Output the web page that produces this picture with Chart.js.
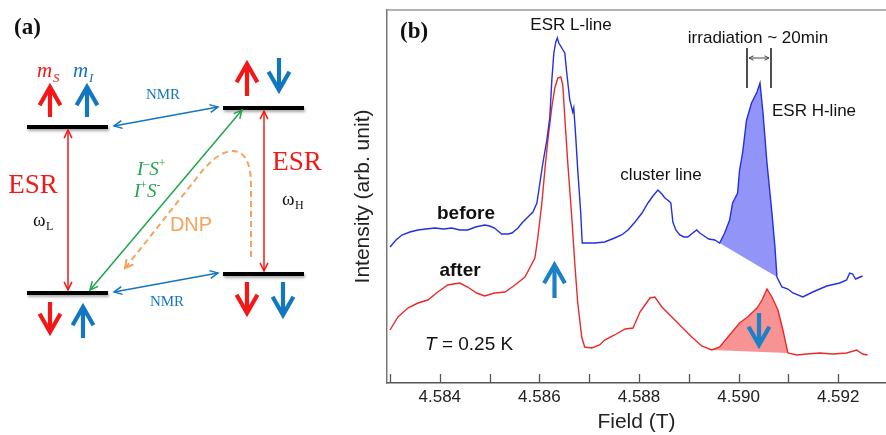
<!DOCTYPE html>
<html>
<head>
<meta charset="utf-8">
<script src="https://cdn.jsdelivr.net/npm/chart.js@4.4.1/dist/chart.umd.min.js"></script>
<style>
  html, body { margin: 0; padding: 0; background: #fff; }
  #wrap { width: 886px; height: 435px; }
</style>
</head>
<body>
<div id="wrap"><canvas id="grafico" width="886" height="435"></canvas></div>
<script>
//? Dados do espectro ESR (campo em T, intensidade em unidade arbitraria)
const fieldBefore = [
    4.58300, 4.58312, 4.58324, 4.58340, 4.58356, 4.58372, 4.58390, 4.58408, 4.58424, 4.58440,
    4.58456, 4.58472, 4.58490, 4.58500, 4.58510, 4.58524, 4.58537, 4.58545, 4.58557, 4.58565,
    4.58577, 4.58587, 4.58595, 4.58601, 4.58607, 4.58615, 4.58621, 4.58625, 4.58629, 4.58633,
    4.58636, 4.58639, 4.58645, 4.58651, 4.58655, 4.58661, 4.58667, 4.58669, 4.58673, 4.58677,
    4.58683, 4.58686, 4.58697, 4.58711, 4.58731, 4.58751, 4.58765, 4.58778, 4.58792, 4.58806,
    4.58818, 4.58828, 4.58838, 4.58846, 4.58852, 4.58860, 4.58864, 4.58868, 4.58874, 4.58882,
    4.58890, 4.58898, 4.58908, 4.58916, 4.58922, 4.58928, 4.58940, 4.58952, 4.58962, 4.58972,
    4.58982, 4.58988, 4.58998, 4.59002, 4.59008, 4.59016, 4.59026, 4.59037, 4.59043, 4.59049,
    4.59057, 4.59067, 4.59073, 4.59077, 4.59087, 4.59099, 4.59109, 4.59129, 4.59149, 4.59177,
    4.59203, 4.59217, 4.59223, 4.59229, 4.59235, 4.59249
]
const intensityBefore = [
    1.36, 1.43, 1.48, 1.51, 1.53, 1.54, 1.55, 1.54, 1.55, 1.53,
    1.53, 1.56, 1.58, 1.57, 1.55, 1.49, 1.49, 1.50, 1.55, 1.60,
    1.66, 1.71, 1.80, 2.00, 2.20, 2.43, 2.66, 3.03, 3.30, 3.41,
    3.45, 3.40, 3.35, 3.30, 3.10, 2.83, 2.71, 2.75, 2.46, 2.13,
    1.70, 1.40, 1.40, 1.40, 1.41, 1.45, 1.48, 1.53, 1.61, 1.70,
    1.80, 1.87, 1.93, 1.89, 1.85, 1.82, 1.80, 1.61, 1.53, 1.48,
    1.46, 1.46, 1.50, 1.53, 1.50, 1.48, 1.44, 1.43, 1.40, 1.50,
    1.63, 1.80, 1.90, 2.13, 2.30, 2.63, 2.80, 2.91, 3.00, 2.70,
    2.20, 1.70, 1.36, 1.06, 0.96, 0.94, 0.90, 0.86, 0.91, 0.97,
    1.00, 1.03, 1.10, 1.09, 1.04, 1.07
]
const fieldAfter = [
    4.58300, 4.58316, 4.58336, 4.58356, 4.58376, 4.58396, 4.58416, 4.58440, 4.58456, 4.58474,
    4.58490, 4.58510, 4.58531, 4.58551, 4.58571, 4.58591, 4.58597, 4.58605, 4.58611, 4.58617,
    4.58625, 4.58631, 4.58637, 4.58643, 4.58647, 4.58651, 4.58657, 4.58665, 4.58671, 4.58677,
    4.58685, 4.58691, 4.58705, 4.58721, 4.58731, 4.58751, 4.58772, 4.58788, 4.58802, 4.58812,
    4.58822, 4.58832, 4.58846, 4.58866, 4.58886, 4.58906, 4.58926, 4.58946, 4.58962, 4.58982,
    4.59002, 4.59018, 4.59037, 4.59047, 4.59057, 4.59067, 4.59079, 4.59089, 4.59099, 4.59117,
    4.59137, 4.59163, 4.59189, 4.59217, 4.59237, 4.59249, 4.59259
]
const intensityAfter = [
    0.53, 0.66, 0.75, 0.80, 0.83, 0.91, 0.98, 1.00, 0.96, 0.90,
    0.87, 0.90, 0.91, 0.98, 1.06, 1.25, 1.46, 1.80, 2.13, 2.43,
    2.76, 2.95, 3.05, 3.06, 2.98, 2.66, 2.20, 1.66, 1.20, 0.80,
    0.46, 0.36, 0.35, 0.38, 0.43, 0.48, 0.54, 0.55, 0.71, 0.78,
    0.85, 0.86, 0.76, 0.66, 0.56, 0.46, 0.37, 0.33, 0.36, 0.48,
    0.60, 0.66, 0.75, 0.83, 0.94, 0.86, 0.73, 0.53, 0.30, 0.28,
    0.29, 0.30, 0.29, 0.30, 0.33, 0.29, 0.28
]
// faixas pintadas sob a linha H
const hLineBefore = [4.58962, 4.59077]
const hLineAfter = [4.58946, 4.59099]
// eixo do campo
const fieldTicks = [4.583, 4.584, 4.585, 4.586, 4.587, 4.588, 4.589, 4.590, 4.591, 4.592]
const fieldLabels = [4.584, 4.586, 4.588, 4.590, 4.592]

const AZUL = '#1276c0'
const VERMELHO = '#f21818'

function pontos(xs, ys, de = -Infinity, ate = Infinity) {
    const lista = []
    for (let c = 0; c < xs.length; c++) {
        if (xs[c] >= de - 1e-9 && xs[c] <= ate + 1e-9) lista.push({ x: xs[c], y: ys[c] })
    }
    return lista
}

//? Setas
function linha(ctx, x1, y1, x2, y2) {
    ctx.beginPath()
    ctx.moveTo(x1, y1)
    ctx.lineTo(x2, y2)
    ctx.stroke()
}

function ponta(ctx, tx, ty, ang, len, abertura) {
    ctx.beginPath()
    ctx.moveTo(tx + len * Math.cos(ang + Math.PI - abertura), ty + len * Math.sin(ang + Math.PI - abertura))
    ctx.lineTo(tx, ty)
    ctx.lineTo(tx + len * Math.cos(ang + Math.PI + abertura), ty + len * Math.sin(ang + Math.PI + abertura))
    ctx.stroke()
}

function setaDupla(ctx, x1, y1, x2, y2, cor, larg = 1.5, len = 8) {
    ctx.save()
    ctx.strokeStyle = cor
    ctx.lineWidth = larg
    ctx.lineJoin = 'miter'
    linha(ctx, x1, y1, x2, y2)
    const ang = Math.atan2(y2 - y1, x2 - x1)
    ponta(ctx, x2, y2, ang, len, 0.45)
    ponta(ctx, x1, y1, ang + Math.PI, len, 0.45)
    ctx.restore()
}

// seta grossa de spin (vertical)
function setaSpin(ctx, x, yCauda, yPonta, cor) {
    ctx.save()
    ctx.strokeStyle = cor
    ctx.lineWidth = 4.2
    ctx.lineCap = 'butt'
    ctx.lineJoin = 'miter'
    const dir = yPonta < yCauda ? -1 : 1
    linha(ctx, x, yCauda, x, yPonta - dir * 2)
    ponta(ctx, x, yPonta, dir * Math.PI / 2, 21, 0.52)
    ctx.restore()
}

function texto(ctx, s, x, y, font, cor, align = 'center') {
    ctx.font = font
    ctx.fillStyle = cor
    ctx.textAlign = align
    ctx.textBaseline = 'middle'
    ctx.fillText(s, x, y)
    return ctx.measureText(s).width
}

//? Painel (a): diagrama dos niveis
function desenharPainelA(ctx) {
    ctx.save()
    texto(ctx, '(a)', 14, 28, 'bold 23px "Liberation Serif"', '#111', 'left')

    // niveis de energia
    ctx.save()
    ctx.shadowColor = 'rgba(0,0,0,0.35)'
    ctx.shadowBlur = 3
    ctx.shadowOffsetX = 1
    ctx.shadowOffsetY = 2
    ctx.strokeStyle = '#000'
    ctx.lineWidth = 4
    const niveis = [[27, 108, 127], [223, 304, 108], [27, 108, 293], [223, 304, 274]]
    for (let c = 0; c < niveis.length; c++) linha(ctx, niveis[c][0], niveis[c][2], niveis[c][1], niveis[c][2])
    ctx.restore()

    // transicoes
    setaDupla(ctx, 68, 130, 68, 290, VERMELHO, 1.5, 9)
    setaDupla(ctx, 264, 111, 264, 271, VERMELHO, 1.5, 9)
    setaDupla(ctx, 114, 126, 218, 107, AZUL, 1.5, 9)
    setaDupla(ctx, 114, 292, 218, 273, AZUL, 1.5, 9)
    setaDupla(ctx, 90, 290, 242, 110, '#1ea64a', 1.5, 9)

    // DNP tracejado
    ctx.save()
    ctx.strokeStyle = '#f4a35c'
    ctx.lineWidth = 2
    ctx.setLineDash([6, 4])
    ctx.beginPath()
    ctx.moveTo(251, 257)
    ctx.lineTo(251, 185)
    ctx.bezierCurveTo(251, 160, 243, 151, 233, 151)
    ctx.bezierCurveTo(222, 151, 212, 160, 203, 170)
    ctx.lineTo(126, 267)
    ctx.stroke()
    ctx.setLineDash([])
    ponta(ctx, 125, 268, Math.atan2(268 - 170, 125 - 203), 9, 0.5)
    ctx.restore()

    // spins
    setaSpin(ctx, 50, 117, 87, VERMELHO)
    setaSpin(ctx, 87, 117, 87, AZUL)
    setaSpin(ctx, 247, 96, 64, VERMELHO)
    setaSpin(ctx, 279, 58, 90, AZUL)
    setaSpin(ctx, 50, 302, 332, VERMELHO)
    setaSpin(ctx, 83, 338, 307, AZUL)
    setaSpin(ctx, 247, 282, 313, VERMELHO)
    setaSpin(ctx, 283, 282, 315, AZUL)

    // rotulos
    ctx.textBaseline = 'alphabetic'
    ctx.textAlign = 'left'
    ctx.font = 'italic 21px "Liberation Serif"'
    ctx.fillStyle = VERMELHO
    ctx.fillText('m', 37, 77)
    ctx.font = 'italic 13px "Liberation Serif"'
    ctx.fillText('S', 53, 82)
    ctx.font = 'italic 21px "Liberation Serif"'
    ctx.fillStyle = AZUL
    ctx.fillText('m', 73, 77)
    ctx.font = 'italic 13px "Liberation Serif"'
    ctx.fillText('I', 89, 82)

    texto(ctx, 'ESR', 33, 186, '27px "Liberation Serif"', VERMELHO)
    texto(ctx, 'ESR', 297, 163, '27px "Liberation Serif"', VERMELHO)
    texto(ctx, 'NMR', 163, 95, '15px "Liberation Serif"', AZUL)
    texto(ctx, 'NMR', 167, 302, '15px "Liberation Serif"', AZUL)
    texto(ctx, 'DNP', 191, 225, '20px "Liberation Sans"', '#f4a35c')

    ctx.textAlign = 'left'
    ctx.textBaseline = 'alphabetic'
    ctx.fillStyle = '#111'
    ctx.font = '19px "Liberation Serif"'
    ctx.fillText('\u03c9', 33, 226)
    ctx.fillText('\u03c9', 282, 205)
    ctx.font = '12px "Liberation Serif"'
    ctx.fillText('L', 46, 230)
    ctx.fillText('H', 295, 209)

    // I-S+ / I+S-
    ctx.fillStyle = '#1ea64a'
    const escreve = (partes, x, y) => {
        for (let c = 0; c < partes.length; c++) {
            const [s, sup] = partes[c]
            ctx.font = sup ? '12px "Liberation Serif"' : 'italic 19px "Liberation Serif"'
            ctx.fillText(s, x, sup ? y - 8 : y)
            x += ctx.measureText(s).width
        }
    }
    escreve([['I', false], ['\u2013', true], ['S', false], ['+', true]], 137, 175)
    escreve([['I', false], ['+', true], ['S', false], ['-', true]], 134, 197)
    ctx.restore()
}

//? Painel (b): textos e marcas
function desenharAnotacoes(ctx, chart) {
    const x = chart.scales.x
    const area = chart.chartArea
    ctx.save()
    // moldura superior
    ctx.strokeStyle = '#9a9a9a'
    ctx.lineWidth = 1.5
    linha(ctx, area.left, area.top, area.right, area.top)
    // ticks para dentro
    ctx.strokeStyle = '#555'
    ctx.lineWidth = 1.3
    for (let c = 0; c < fieldTicks.length; c++) {
        const px = Math.round(x.getPixelForValue(fieldTicks[c])) + 0.5
        linha(ctx, px, area.bottom, px, area.bottom - 9)
    }

    texto(ctx, '(b)', 400, 32, 'bold 23px "Liberation Serif"', '#111', 'left')
    texto(ctx, 'ESR L-line', 571, 25, '17px "Liberation Sans"', '#111')
    texto(ctx, 'irradiation ~ 20min', 758, 38, '17px "Liberation Sans"', '#111')
    texto(ctx, 'ESR H-line', 772, 111, '17px "Liberation Sans"', '#111', 'left')
    texto(ctx, 'cluster line', 661, 175, '17px "Liberation Sans"', '#111')
    texto(ctx, 'before', 466, 214, 'bold 19px "Liberation Sans"', '#111')
    texto(ctx, 'after', 460, 271, 'bold 19px "Liberation Sans"', '#111')
    const wT = texto(ctx, 'T', 425, 345, 'italic 19px "Liberation Sans"', '#111', 'left')
    texto(ctx, ' = 0.25 K', 425 + wT, 345, '19px "Liberation Sans"', '#111', 'left')

    // marcador da irradiacao
    ctx.strokeStyle = '#222'
    ctx.lineWidth = 1.6
    linha(ctx, 747, 48, 747, 88)
    linha(ctx, 771, 48, 771, 88)
    setaDupla(ctx, 749, 58, 769, 58, '#444', 1, 5)

    setaSpin(ctx, 554.5, 298, 265, '#1a80c8')
    setaSpin(ctx, 759, 313, 345, '#1a80c8')
    ctx.restore()
}

const pluginDesenho = {
    id: 'desenho',
    afterDraw(chart) {
        const ctx = chart.ctx
        desenharPainelA(ctx)
        desenharAnotacoes(ctx, chart)
    }
}

Chart.defaults.font.family = '"Liberation Sans", Arial, sans-serif'
Chart.defaults.color = '#222'

const ctx = document.getElementById('grafico').getContext('2d')
const grafico = new Chart(ctx, {
    type: 'line',
    data: {
        datasets: [
            {
                label: 'before',
                data: pontos(fieldBefore, intensityBefore),
                borderColor: '#2230e0',
                borderWidth: 1.4,
                pointRadius: 0,
                fill: false,
                order: 1
            },
            {
                label: 'after',
                data: pontos(fieldAfter, intensityAfter),
                borderColor: '#ea2a2a',
                borderWidth: 1.4,
                pointRadius: 0,
                fill: false,
                order: 1
            },
            {
                label: 'H-line before',
                data: pontos(fieldBefore, intensityBefore, hLineBefore[0], hLineBefore[1]),
                borderWidth: 0,
                borderColor: 'transparent',
                backgroundColor: 'rgba(110, 112, 245, 0.75)',
                pointRadius: 0,
                fill: 'shape',
                order: 2
            },
            {
                label: 'H-line after',
                data: pontos(fieldAfter, intensityAfter, hLineAfter[0], hLineAfter[1]),
                borderWidth: 0,
                borderColor: 'transparent',
                backgroundColor: 'rgba(245, 105, 105, 0.72)',
                pointRadius: 0,
                fill: 'shape',
                order: 2
            }
        ]
    },
    options: {
        responsive: false,
        animation: false,
        devicePixelRatio: 1,
        layout: { padding: { left: 340, top: 10, right: 0, bottom: 0 } },
        plugins: {
            legend: { display: false },
            tooltip: { enabled: false }
        },
        scales: {
            x: {
                type: 'linear',
                min: 4.58294,
                max: 4.59296,
                afterBuildTicks: (scale) => { scale.ticks = fieldTicks.map(v => ({ value: v })) },
                afterFit: (scale) => { scale.height = 52 },
                ticks: {
                    autoSkip: false,
                    maxRotation: 0,
                    padding: 4,
                    font: { size: 17 },
                    color: '#222',
                    callback: (v) => fieldLabels.some(l => Math.abs(l - v) < 1e-7) ? Number(v).toFixed(3) : ''
                },
                grid: { display: true, drawOnChartArea: false, drawTicks: false },
                border: { display: true, color: '#555', width: 1.5 },
                title: { display: true, text: 'Field (T)', font: { size: 21 }, color: '#222', padding: { top: 0, bottom: 0 } }
            },
            y: {
                min: 0,
                max: 3.73,
                afterFit: (scale) => { scale.width = 47 },
                ticks: { display: false },
                grid: { display: true, drawOnChartArea: false, drawTicks: false },
                border: { display: true, color: '#777', width: 1.5 },
                title: { display: true, text: 'Intensity (arb. unit)', font: { size: 21 }, color: '#222', padding: { top: 11, bottom: 0 } }
            }
        }
    },
    plugins: [pluginDesenho]
})
</script>
</body>
</html>
